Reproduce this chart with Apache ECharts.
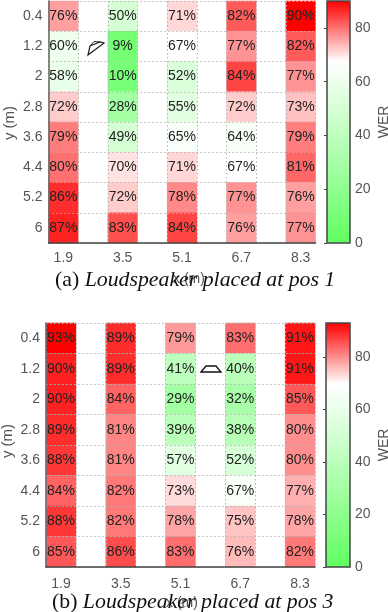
<!DOCTYPE html>
<html><head><meta charset="utf-8">
<style>html,body{margin:0;padding:0;background:#fff}#c{width:388px;height:612px}</style>
<script src="https://cdn.jsdelivr.net/npm/echarts@6/dist/echarts.min.js"></script>
</head><body><div id="c"></div>
<script>
const xLabels = ['1.9','','3.5','','5.1','','6.7','','8.3'];
const yLabels = ['0.4','1.2','2','2.8','3.6','4.4','5.2','6'];
const werA = [
  [76,50,71,82,90],
  [60,9,67,77,82],
  [58,10,52,84,77],
  [72,28,55,72,73],
  [79,49,65,64,79],
  [80,70,71,67,81],
  [86,72,78,77,76],
  [87,83,84,76,77]
];
const werB = [
  [93,89,79,83,91],
  [90,89,41,40,91],
  [90,84,29,32,85],
  [89,81,39,38,80],
  [88,81,57,52,80],
  [84,82,73,67,77],
  [88,82,78,75,78],
  [85,86,83,76,82]
];
const captionA = ['(a) ','Loudspeaker placed at pos 1'];
const captionB = ['(b) ','Loudspeaker placed at pos 3'];
const barTicksMaxA = 90, barTicksMaxB = 93;
const ramp = ['#60ff60','#95ff95','#caffca','#ffffff','#ff0000'];

const toCells = m => m.flatMap((r,i)=>r.map((v,j)=>[j*2,i,v]));
const grey='#555', dark='#444';
const dotted={show:true,lineStyle:{color:'#b4b4b4',type:[1.5,2.5],width:1}};

function panel(idx, g, bar, data, maxV, cap){
  const gi=idx*2, bi=idx*2+1;
  return {
    grids:[
      {left:g.l,top:g.t,width:g.w,height:g.h,outerBoundsMode:'none'},
      {left:bar.l,top:g.t,width:bar.w,height:g.h,show:true,borderColor:dark,borderWidth:1.5,backgroundColor:'transparent',z:10,outerBoundsMode:'none'}
    ],
    xAxes:[
      {type:'category',gridIndex:gi,data:xLabels,z:5,position:'bottom',
       axisLine:{show:true,lineStyle:{color:dark,width:1.5}},axisTick:{show:false},
       axisLabel:{interval:0,color:grey,fontSize:14,fontFamily:'Liberation Sans',margin:g.xm},
       splitLine:Object.assign({interval:0},dotted)},
      {type:'value',gridIndex:bi,show:false,min:0,max:1}
    ],
    yAxes:[
      {type:'category',gridIndex:gi,data:yLabels,inverse:true,z:5,
       axisLine:{show:true,onZero:false,lineStyle:{color:'#666',width:1.5}},axisTick:{show:false},
       axisLabel:{interval:0,color:grey,fontSize:14,fontFamily:'Liberation Sans',margin:g.ym},
       splitLine:Object.assign({interval:0},dotted)},
      {type:'value',gridIndex:bi,min:0,max:maxV,interval:20,position:'right',z:11,
       axisLine:{show:false},splitLine:{show:false},
       axisTick:{show:true,inside:true,length:3,lineStyle:{color:dark}},
       axisLabel:{color:grey,fontSize:14,fontFamily:'Liberation Sans',margin:5,showMaxLabel:false},
       name:'WER',nameLocation:'middle',nameRotate:90,nameGap:27,
       nameTextStyle:{color:grey,fontSize:14,fontFamily:'Liberation Sans'}}
    ],
    series:{type:'heatmap',xAxisIndex:gi,yAxisIndex:gi,data:data,z:2,
      label:{show:true,formatter:p=>p.value[2]+'%',color:'#222',fontSize:14,fontFamily:'Liberation Sans'},
      itemStyle:{borderWidth:0},emphasis:{disabled:true}},
    vm:{type:'continuous',seriesIndex:idx,min:0,max:maxV,calculable:false,realtime:false,
      left:bar.l,top:g.t,itemWidth:bar.w,itemHeight:g.h,text:null,showLabel:false,
      padding:0,orient:'vertical',inRange:{color:ramp},hoverLink:false},
    caption:{type:'text',left:cap.x,top:cap.y,z:20,silent:true,style:{
      rich:{n:{font:'21.8px "Liberation Serif"',fill:'#111'},i:{font:'italic 21.8px "Liberation Serif"',fill:'#111'}},
      text:'{n|'+cap.t[0]+'}{i|'+cap.t[1]+'}'}},
    xname:{type:'text',left:cap.nx,top:cap.ny,z:15,silent:true,style:{text:'x (m)',font:'14px "Liberation Sans"',fill:grey}},
    yname:{type:'text',x:g.yx,y:g.yy,rotation:Math.PI/2,z:15,silent:true,style:{text:'y (m)',font:'15px "Liberation Sans"',fill:grey,align:'center',verticalAlign:'middle'}}
  };
}
const A=panel(0,{l:48.5,t:1,w:267,h:242,xm:8,ym:6,yx:10,yy:123},{l:327,w:23},toCells(werA),barTicksMaxA,{x:55,y:269,nx:173,ny:272,t:captionA});
const B=panel(1,{l:46,t:323,w:269,h:244,xm:10,ym:6,yx:8,yy:441},{l:326,w:24},toCells(werB),barTicksMaxB,{x:52,y:591,nx:166,ny:596,t:captionB});

const chart=echarts.init(document.getElementById('c'),null,{renderer:'canvas'});
chart.setOption({
  animation:false,
  grid:[...A.grids,...B.grids],
  xAxis:[...A.xAxes,...B.xAxes],
  yAxis:[...A.yAxes,...B.yAxes],
  visualMap:[A.vm,B.vm],
  series:[A.series,B.series],
  graphic:[A.xname,B.xname,A.yname,B.yname,A.caption,B.caption,
    {type:'polygon',z:20,silent:true,shape:{points:[[88,55],[90,46],[100,42],[104,43]]},style:{fill:'none',stroke:'#222',lineWidth:1.2}},
    {type:'polyline',z:20,silent:true,shape:{points:[[90,46],[94,41.5],[100,42]]},style:{fill:'none',stroke:'#222',lineWidth:1}},
    {type:'polygon',z:20,silent:true,shape:{points:[[201,372],[206,366],[216,366],[221,372]]},style:{fill:'none',stroke:'#111',lineWidth:1.3}}
  ]
});
</script></body></html>
